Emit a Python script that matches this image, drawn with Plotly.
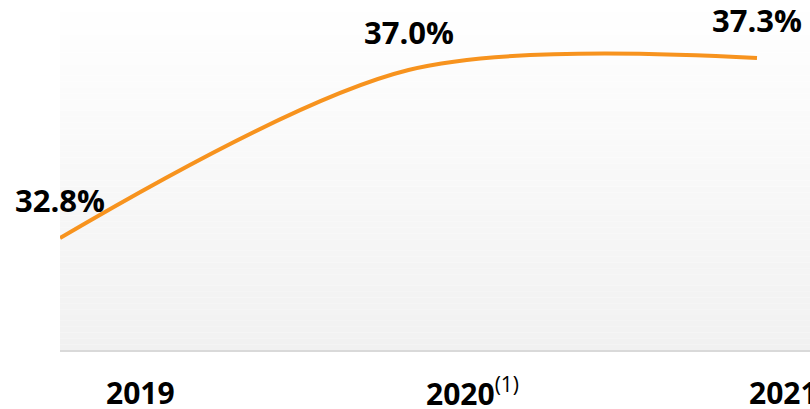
import plotly.graph_objects as go

# ---- data ----
years = ["2019", "2020", "2021"]
tick_labels = ["<b>2019</b>", "<b>2020</b><sup>(1)</sup>", "<b>2021</b>"]
values = [32.8, 37.0, 37.3]
value_labels = ["32.8%", "37.0%", "37.3%"]

# ---- layout constants ----
LINE_COLOR = "#F7931E"
FONT = "Open Sans"
tick_xshift = [80, 64, 26]
x_pos = list(range(len(years)))

fig = go.Figure()

fig.add_trace(go.Scatter(
    x=x_pos, y=values, mode="lines",
    line=dict(color=LINE_COLOR, width=4, shape="spline", smoothing=0.9),
    cliponaxis=False, hoverinfo="skip", showlegend=False,
))

# value labels
for xi, v, lab in zip(x_pos, values, value_labels):
    fig.add_annotation(x=xi, y=v, text=f"<b>{lab}</b>", showarrow=False,
                       yshift=38, font=dict(family=FONT, size=31, color="#000000"))

# category labels
for xi, lab, sh in zip(x_pos, tick_labels, tick_xshift):
    fig.add_annotation(x=xi, xref="x", y=0, yref="paper", yanchor="middle",
                       text=lab, showarrow=False, xshift=sh, yshift=-42,
                       font=dict(family=FONT, size=30, color="#000000"))

# vertical gradient background (white at top -> light gray at bottom)
n = 60
shapes = []
for i in range(n):
    t = (i + 0.5) / n  # 0 bottom -> 1 top
    g = int(round(241 + (255 - 241) * t))
    shapes.append(dict(type="rect", xref="x domain", yref="y domain",
                       x0=0, x1=1, y0=i / n, y1=(i + 1) / n,
                       fillcolor=f"rgb({g},{g},{g})", line=dict(width=0),
                       layer="below"))

fig.update_layout(
    width=810, height=409,
    margin=dict(l=60, r=0, t=0, b=59),
    paper_bgcolor="white", plot_bgcolor="white",
    shapes=shapes,
    xaxis=dict(range=[0, 750 / 348.5], showgrid=False, zeroline=False,
               showticklabels=False, ticks="", showline=True,
               linecolor="#d9d9d9", linewidth=2, fixedrange=True),
    yaxis=dict(range=[30.0, 38.75], showgrid=False, zeroline=False,
               showticklabels=False, ticks="", showline=False, fixedrange=True),
)

fig.write_html("out.html")
